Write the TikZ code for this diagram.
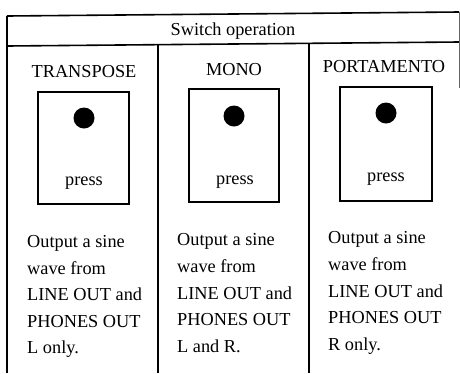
\documentclass[tikz,border=0pt]{standalone}
\usepackage{fontspec}
\setmainfont{Liberation Serif}
\begin{document}
\begin{tikzpicture}[x=1pt,y=-1pt,
  rule/.style={line width=1.6pt},
  btn/.style={draw,line width=1.4pt},
  dot/.style={circle,fill=black,inner sep=0pt,minimum size=21pt},
  txt/.style={font=\fontsize{18.3}{22}\selectfont,inner sep=0pt},
  body/.style={txt,anchor=base west}]
\useasboundingbox (0,0) rectangle (460,373);
% frame
\coordinate (tl) at (7,16);
\coordinate (tr) at (459,12);
\coordinate (hl) at (7,46);
\coordinate (hr) at (459,42);
\coordinate (bl) at (7,373);
\coordinate (rb) at (459,88);
\coordinate (d1t) at (158,45);
\coordinate (d1b) at (158,373);
\coordinate (d2t) at (309,43);
\coordinate (d2b) at (309,373);
\draw[rule] (tl) -- (tr);
\draw[rule] (hl) -- (hr);
\draw[rule] (tl) -- (bl);
\draw[line width=0.8pt,black!60] (tr) -- (rb);
\draw[rule] (d1t) -- (d1b);
\draw[rule] (d2t) -- (d2b);
% header
\node[txt,anchor=base] (hdr) at (233,35.5) {Switch operation};
% column titles
\node[txt,anchor=base] (t1) at (84,77) {TRANSPOSE};
\node[txt,anchor=base] (t2) at (234,75) {MONO};
\node[txt,anchor=base] (t3) at (384,72.5) {PORTAMENTO};
% buttons
\draw[btn] (38,92) rectangle (129,204);
\draw[btn] (189,89) rectangle (279,202);
\draw[btn] (340,87) rectangle (432,201);
\node[dot] (d1) at (84,118) {};
\node[dot] (d2) at (234,116) {};
\node[dot] (d3) at (386,113) {};
\node[txt,anchor=base] (p1) at (84,185.5) {press};
\node[txt,anchor=base] (p2) at (235,184) {press};
\node[txt,anchor=base] (p3) at (386,181.5) {press};
% body texts
\node[body] (a1) at (27,247) {Output a sine};
\node[body] (a2) at (27,274) {wave from};
\node[body] (a3) at (27,300.5) {LINE OUT and};
\node[body] (a4) at (27,327) {PHONES OUT};
\node[body] (a5) at (27,353.5) {L only.};
\node[body] (b1) at (177,245) {Output a sine};
\node[body] (b2) at (177,272) {wave from};
\node[body] (b3) at (177,299) {LINE OUT and};
\node[body] (b4) at (177,325.5) {PHONES OUT};
\node[body] (b5) at (177,352) {L and R.};
\node[body] (c1) at (328,243) {Output a sine};
\node[body] (c2) at (328,270.5) {wave from};
\node[body] (c3) at (328,297) {LINE OUT and};
\node[body] (c4) at (328,323.5) {PHONES OUT};
\node[body] (c5) at (328,350.5) {R only.};
\end{tikzpicture}
\end{document}
